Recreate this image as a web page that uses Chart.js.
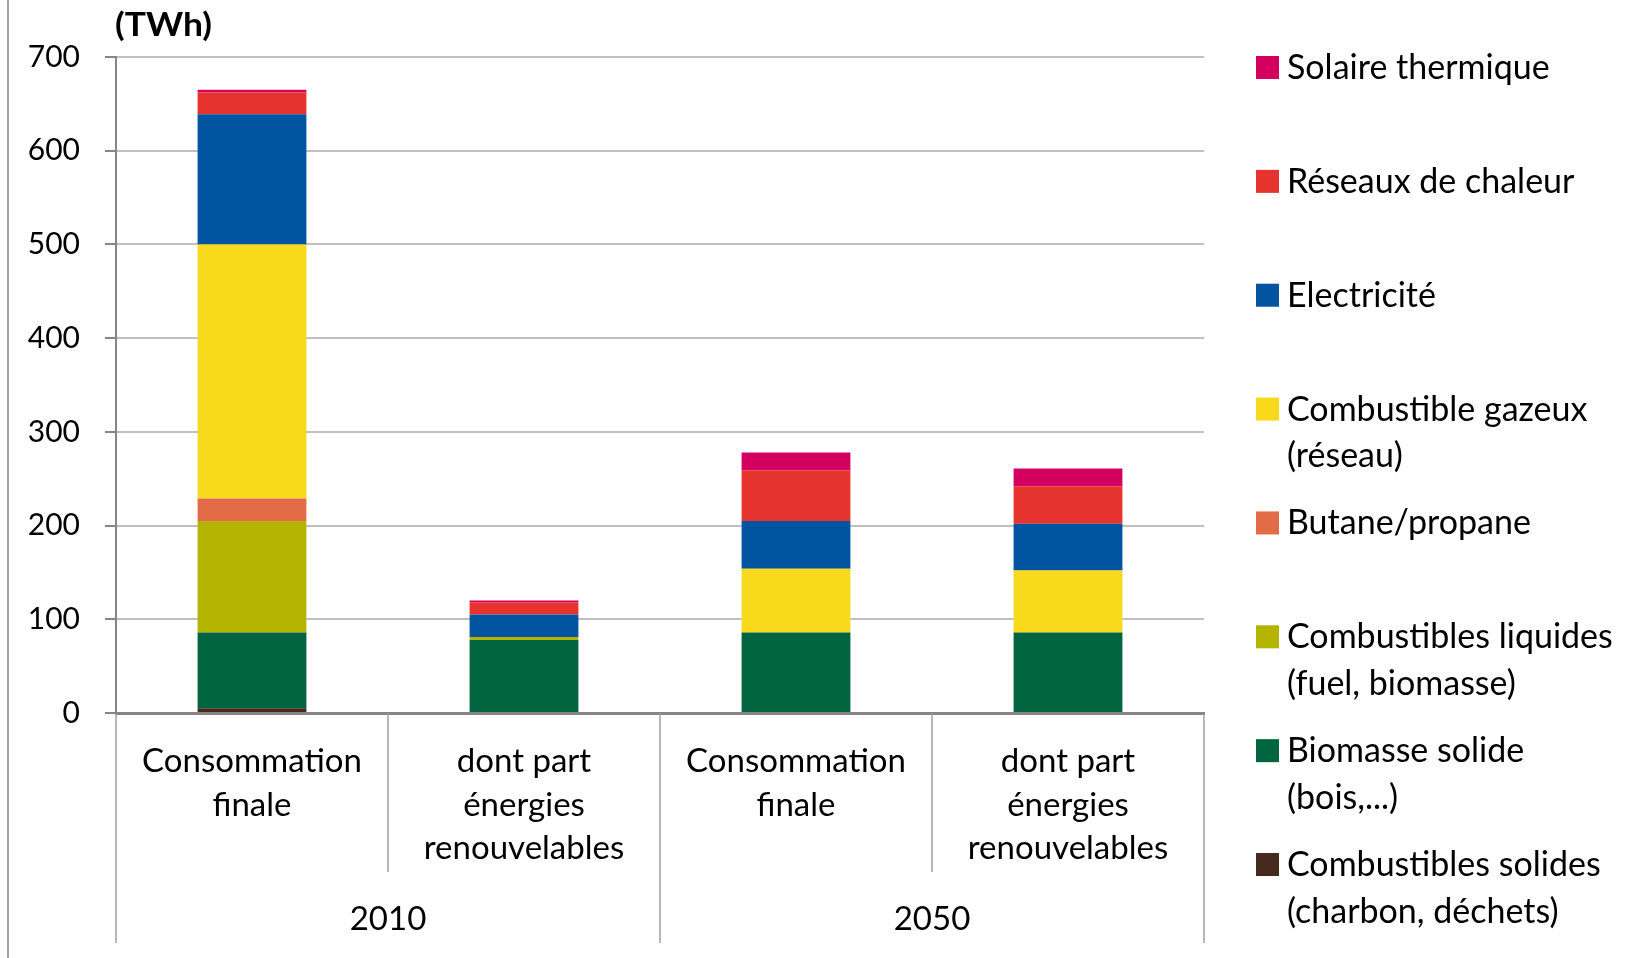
<!DOCTYPE html>
<html><head><meta charset="utf-8">
<script src="https://cdn.jsdelivr.net/npm/chart.js@4.4.1/dist/chart.umd.min.js"></script>
<style>html,body{margin:0;padding:0;background:#fff;} #wrap{width:1638px;height:958px;position:relative;}</style>
</head><body><div id="wrap"><canvas id="c" width="1638" height="958"></canvas></div>
<script>
// ---- data ----
const categories = [["Consommation","finale"],["dont part","énergies","renouvelables"],["Consommation","finale"],["dont part","énergies","renouvelables"]];
const years = ["2010","2050"];
const unitLabel = "(TWh)";
const yMin = 0, yMax = 700, yStep = 100;

// series from bottom of stack to top
const seriesNames = [
  ["Combustibles solides","(charbon, déchets)"],
  ["Biomasse solide","(bois,...)"],
  ["Combustibles liquides","(fuel, biomasse)"],
  ["Butane/propane"],
  ["Combustible gazeux","(réseau)"],
  ["Electricité"],
  ["Réseaux de chaleur"],
  ["Solaire thermique"]
];
const seriesColors = ["#452A1D","#00653F","#B3B300","#E36C48","#F8D91C","#0054A0","#E6332D","#D4005F"];
const combustiblesSolides   = [5, 0, 0, 0];
const biomasseSolide        = [81, 78, 86, 86];
const combustiblesLiquides  = [119, 3, 0, 0];
const butanePropane         = [24, 0, 0, 0];
const combustibleGazeux     = [271, 0, 68, 66];
const electricite           = [139, 24, 51, 50];
const reseauxChaleur        = [23, 13, 54, 40];
const solaireThermique      = [3, 2, 19, 19];
const seriesValues = [combustiblesSolides, biomasseSolide, combustiblesLiquides, butanePropane,
  combustibleGazeux, electricite, reseauxChaleur, solaireThermique];

// ---- styling ----
const FONT = 'Lato';
const catFontSize = 33, catLineH = 43.5;

const datasets = seriesNames.map((n, i) => ({
  label: n.join(' '),
  legendLines: n,
  data: seriesValues[i],
  backgroundColor: seriesColors[i],
  borderWidth: 0,
  categoryPercentage: 1.0,
  barPercentage: 0.4
}));

const decor = {
  id: 'decor',
  beforeDraw(chart) {
    const ctx = chart.ctx;
    ctx.save();
    ctx.strokeStyle = '#A0A0A0'; ctx.lineWidth = 2;
    ctx.beginPath(); ctx.moveTo(8, 0); ctx.lineTo(8, 958); ctx.stroke();
    ctx.restore();
  },
  afterDraw(chart) {
    const ctx = chart.ctx, ca = chart.chartArea;
    const n = categories.length, cw = (ca.right - ca.left) / n;
    const per = n / years.length;
    ctx.save();
    // separators below axis
    ctx.strokeStyle = '#A0A0A0'; ctx.lineWidth = 1.5;
    for (let i = 0; i <= n; i++) {
      const xx = ca.left + i * cw;
      const bottom = (i % per === 0) ? ca.bottom + 230 : ca.bottom + 159;
      ctx.beginPath(); ctx.moveTo(xx, ca.bottom + 1); ctx.lineTo(xx, bottom); ctx.stroke();
    }
    // year labels
    ctx.fillStyle = '#000';
    ctx.font = catFontSize + 'px ' + FONT;
    ctx.textAlign = 'center'; ctx.textBaseline = 'middle';
    years.forEach((y, k) => ctx.fillText(y, ca.left + (k * per + per / 2) * cw, ca.bottom + 206));
    // unit title
    ctx.font = 'bold 32px ' + FONT;
    ctx.textAlign = 'left'; ctx.textBaseline = 'alphabetic';
    const w = ctx.measureText(unitLabel).width;
    ctx.save(); ctx.translate(115, 36); ctx.scale(97 / w, 1); ctx.fillText(unitLabel, 0, 0); ctx.restore();
    // legend (reverse order)
    const ds = chart.data.datasets;
    ctx.font = '34px ' + FONT;
    for (let j = 0; j < ds.length; j++) {
      const d = ds[ds.length - 1 - j];
      const cy = 67.5 + j * 113.86;
      ctx.fillStyle = d.backgroundColor;
      ctx.fillRect(1256, cy - 11.5, 23, 23);
      ctx.fillStyle = '#000';
      d.legendLines.forEach((t, li) => ctx.fillText(t, 1287, cy + 11.5 + li * 46.7));
    }
    ctx.restore();
  }
};

new Chart(document.getElementById('c'), {
  type: 'bar',
  data: { labels: categories, datasets },
  plugins: [decor],
  options: {
    responsive: false,
    animation: false,
    devicePixelRatio: 1,
    layout: { padding: { left: 0, top: 57, right: 434, bottom: 0 } },
    plugins: { legend: { display: false }, tooltip: { enabled: false }, title: { display: false } },
    scales: {
      x: {
        stacked: true,
        afterFit(s) { s.height = 245; },
        grid: { display: false, drawTicks: false },
        border: { display: true, color: '#868686', width: 3, z: 1 },
        ticks: {
          autoSkip: false, maxRotation: 0, minRotation: 0, color: '#000',
          padding: 48.5 - catLineH / 2,
          font: { family: FONT, size: catFontSize, lineHeight: catLineH / catFontSize }
        }
      },
      y: {
        stacked: true, min: yMin, max: yMax,
        afterFit(s) { s.width = 116; },
        grid: { color: '#C0C0C0', lineWidth: 2, tickColor: '#868686', tickWidth: 2, tickLength: 11 },
        border: { display: true, color: '#868686', width: 2 },
        ticks: { stepSize: yStep, color: '#000', padding: 25, font: { family: FONT, size: 30 } }
      }
    }
  }
});
</script></body></html>
